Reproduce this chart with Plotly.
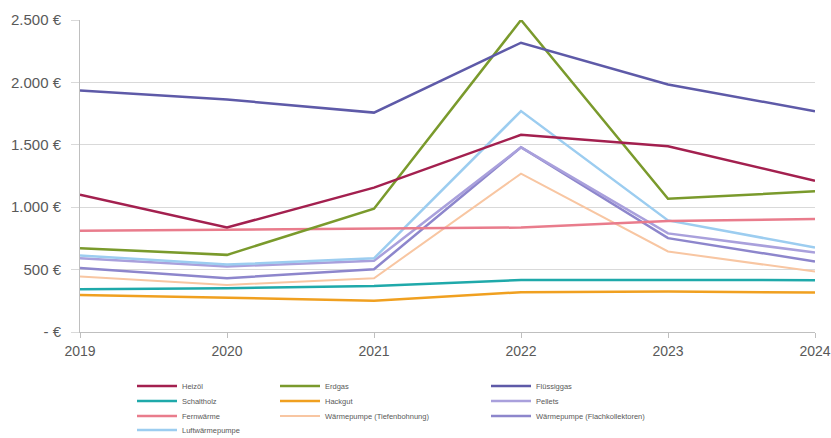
import plotly.graph_objects as go

years = [2019, 2020, 2021, 2022, 2023, 2024]

heizoel = [1100, 837, 1157, 1580, 1488, 1212]
erdgas = [672, 618, 988, 2500, 1068, 1127]
fluessiggas = [1935, 1863, 1758, 2318, 1983, 1769]
scheitholz = [343, 351, 369, 417, 417, 415]
hackgut = [297, 271, 251, 319, 324, 316]
pellets = [590, 525, 570, 1480, 790, 637]
fernwaerme = [811, 819, 827, 837, 890, 905]
wp_tiefe = [444, 377, 431, 1269, 645, 484]
wp_flach = [512, 431, 503, 1480, 752, 565]
luftwp = [612, 540, 590, 1770, 894, 677]

y_ticks = [0, 500, 1000, 1500, 2000, 2500]
y_ticktext = [" - €", "500 €", "1.000 €", "1.500 €", "2.000 €", "2.500 €"]

# name, values, colour, width, legend column, legend row
series = [
    ("Heizöl", heizoel, "#a3204f", 2.5, 0, 0),
    ("Schaltholz", scheitholz, "#1fa9aa", 2.5, 0, 1),
    ("Fernwärme", fernwaerme, "#e97c8c", 2.5, 0, 2),
    ("Luftwärmepumpe", luftwp, "#9ccdf0", 2.5, 0, 3),
    ("Erdgas", erdgas, "#7a9a2c", 2.5, 1, 0),
    ("Hackgut", hackgut, "#f0a020", 2.5, 1, 1),
    ("Wärmepumpe (Tiefenbohnung)", wp_tiefe, "#f8c6a2", 2.0, 1, 2),
    ("Flüssiggas", fluessiggas, "#5e5aa8", 2.5, 2, 0),
    ("Pellets", pellets, "#a9a0dc", 2.5, 2, 1),
    ("Wärmepumpe (Flachkollektoren)", wp_flach, "#8d86cc", 2.5, 2, 2),
]

W, H = 831, 438
ML, MR, MT, MB = 80, 16, 20, 106
PW, PH = W - ML - MR, H - MT - MB

col_px = [132, 275, 486]
row_px = [386, 401, 416, 430]

fig = go.Figure()
draw_order = ["Hackgut", "Schaltholz", "Wärmepumpe (Tiefenbohnung)", "Wärmepumpe (Flachkollektoren)",
              "Pellets", "Luftwärmepumpe", "Fernwärme", "Erdgas", "Heizöl", "Flüssiggas"]
lookup = {s[0]: s for s in series}
legends = {}
for i, s in enumerate(series):
    n, vals, col, w, c, r = s
    key = "legend" if i == 0 else f"legend{i + 1}"
    legends[n] = key
    legends[key + "_pos"] = (col_px[c], row_px[r])

for name in draw_order:
    n, vals, col, w, c, r = lookup[name]
    fig.add_trace(go.Scatter(
        x=years, y=vals, name=n, mode="lines",
        line=dict(color=col, width=w),
        legend=legends[n],
    ))

layout_legends = {}
for i, s in enumerate(series):
    key = "legend" if i == 0 else f"legend{i + 1}"
    px, py = legends[key + "_pos"]
    layout_legends[key] = dict(
        orientation="v", xref="paper", yref="paper",
        x=(px - ML) / PW, y=(H - MB - py) / PH,
        xanchor="left", yanchor="middle",
        font=dict(size=7.5, color="#595959", family="Liberation Sans"),
        bgcolor="rgba(0,0,0,0)", itemwidth=40, borderwidth=0,
    )

fig.update_layout(
    width=W, height=H,
    margin=dict(l=ML, r=MR, t=MT, b=MB, autoexpand=False),
    paper_bgcolor="white", plot_bgcolor="white",
    font=dict(family="Liberation Sans", color="#595959", size=12),
    showlegend=True,
    xaxis=dict(
        range=[2019, 2024], tickvals=years, ticktext=[str(y) for y in years],
        showgrid=False, showline=True, linecolor="#bfbfbf", linewidth=1,
        ticks="outside", ticklen=5, tickcolor="#bfbfbf", ticklabelstandoff=1,
        ticklabeloverflow="allow",
        tickfont=dict(size=14, color="#595959"), zeroline=False,
    ),
    yaxis=dict(
        range=[0, 2500], tickvals=y_ticks, ticktext=y_ticktext,
        showgrid=True, gridcolor="#d9d9d9", gridwidth=1,
        showline=True, linecolor="#bfbfbf", linewidth=1,
        ticks="outside", ticklen=8, tickcolor="#d9d9d9", ticklabelstandoff=7,
        tickfont=dict(size=15, color="#595959"), zeroline=False,
    ),
    **layout_legends,
)

fig.write_html("out.html")
